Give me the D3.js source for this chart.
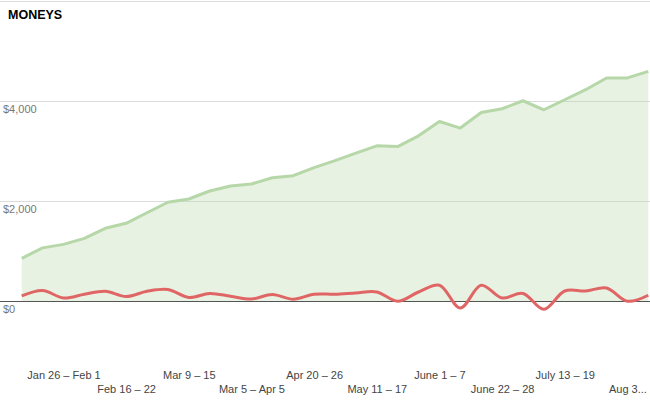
<!DOCTYPE html>
<html>
<head>
<meta charset="utf-8">
<script src="https://cdn.jsdelivr.net/npm/d3@7"></script>
<style>
  html, body { margin: 0; padding: 0; background: #fff; }
  #chart { width: 650px; height: 402px; }
  text { font-family: Arial, "Liberation Sans", sans-serif; }
</style>
</head>
<body>
<div id="chart"></div>
<script>
const W = 650;
const H = 402;

// weekly buckets, as labelled in the sheet
const weeks = [
  'Jan 12 – 18', 'Jan 19 – 25', 'Jan 26 – Feb 1', 'Feb 2 – 8', 'Feb 9 – 15',
  'Feb 16 – 22', 'Feb 23 – Mar 1', 'Mar 2 – 8', 'Mar 9 – 15', 'Mar 16 – 22',
  'Mar 23 – 29', 'Mar 5 – Apr 5', 'Apr 6 – 12', 'Apr 13 – 19', 'Apr 20 – 26',
  'Apr 27 – May 3', 'May 4 – 10', 'May 11 – 17', 'May 18 – 24', 'May 25 – 31',
  'June 1 – 7', 'June 8 – 14', 'June 15 – 21', 'June 22 – 28', 'June 29 – July 5',
  'July 6 – 12', 'July 13 – 19', 'July 20 – 26', 'July 27 – Aug 2', 'Aug 3 – 9',
  'Aug 10 – 16'
];

// running total (green)
const total = [
  855, 1065, 1135, 1255, 1455, 1555, 1765, 1975, 2040, 2200,
  2300, 2340, 2465, 2505, 2665, 2805, 2955, 3100, 3085, 3300,
  3585, 3455, 3765, 3840, 4000, 3820, 4020, 4220, 4455, 4455,
  4585
];

// weekly net (red)
const weekly = [
  105, 215, 65, 140, 200, 95, 200, 235, 75, 155,
  100, 45, 135, 40, 140, 140, 165, 185, 0, 185,
  320, -135, 320, 65, 155, -160, 205, 205, 265, 0,
  120
];

const yTicks = [-2000, 0, 2000, 4000, 6000];
const yLabelTicks = [0, 2000, 4000];
const labelEvery = 3;
const labelStart = 2;

const svg = d3.select('#chart')
  .append('svg')
  .attr('width', W)
  .attr('height', H);

const x = d3.scalePoint()
  .domain(weeks)
  .range([21.7, 648.3]);

const y = d3.scaleLinear()
  .domain([-2000, 6000])
  .range([401.5, 0.5]);

// gridlines
svg.append('g')
  .selectAll('line')
  .data(yTicks.filter(d => d !== 0))
  .join('line')
  .attr('x1', 0)
  .attr('x2', W)
  .attr('y1', d => Math.round(y(d)) + 0.5)
  .attr('y2', d => Math.round(y(d)) + 0.5)
  .attr('stroke', '#dcdcdc')
  .attr('stroke-width', 1);

// area under the total
const area = d3.area()
  .x((d, i) => x(weeks[i]))
  .y0(y(0))
  .y1(d => y(d));

svg.append('path')
  .datum(total)
  .attr('d', area)
  .attr('fill', '#b6d7a8')
  .attr('fill-opacity', 0.32);

// zero baseline
svg.append('line')
  .attr('x1', 0)
  .attr('x2', W)
  .attr('y1', Math.round(y(0)) + 0.5)
  .attr('y2', Math.round(y(0)) + 0.5)
  .attr('stroke', '#555')
  .attr('stroke-width', 1);

const totalLine = d3.line()
  .x((d, i) => x(weeks[i]))
  .y(d => y(d));

svg.append('path')
  .datum(total)
  .attr('d', totalLine)
  .attr('fill', 'none')
  .attr('stroke', '#b6d7a8')
  .attr('stroke-width', 3)
  .attr('stroke-linejoin', 'round');

const weeklyLine = d3.line()
  .x((d, i) => x(weeks[i]))
  .y(d => y(d))
  .curve(d3.curveCatmullRom.alpha(0.5));

svg.append('path')
  .datum(weekly)
  .attr('d', weeklyLine)
  .attr('fill', 'none')
  .attr('stroke', '#e06666')
  .attr('stroke-width', 3)
  .attr('stroke-linejoin', 'round');

// y labels sit just under their gridline
svg.append('g')
  .selectAll('text')
  .data(yLabelTicks)
  .join('text')
  .attr('x', 3)
  .attr('y', d => y(d) + 12)
  .attr('fill', '#777')
  .attr('font-size', 11)
  .text(d => '$' + d3.format(',')(d));

// x axis, two staggered rows
const shown = weeks.filter((w, i) => i >= labelStart && (i - labelStart) % labelEvery === 0);

const xAxis = d3.axisBottom(x)
  .tickValues(shown)
  .tickSize(0)
  .tickPadding(0);

const gx = svg.append('g')
  .attr('transform', 'translate(0,0)')
  .call(xAxis);

gx.select('.domain').remove();

gx.selectAll('.tick text')
  .attr('fill', '#444')
  .attr('font-size', 11)
  .attr('font-family', 'Arial, "Liberation Sans", sans-serif')
  .attr('dy', null)
  .attr('y', (d, i) => i % 2 === 0 ? 379 : 393)
  .each(function(d) {
    const t = d3.select(this);
    const room = 2 * (W - x(d)) - 4;
    let s = d;
    if (this.getComputedTextLength() > room) {
      while (s.length > 1) {
        s = s.slice(0, -1);
        t.text(s.trimEnd() + '...');
        if (this.getComputedTextLength() <= room) break;
      }
    }
  });

// title
svg.append('text')
  .attr('x', 8)
  .attr('y', 19)
  .attr('font-size', 12.5)
  .attr('font-weight', 'bold')
  .attr('fill', '#000')
  .text('MONEYS');
</script>
</body>
</html>
